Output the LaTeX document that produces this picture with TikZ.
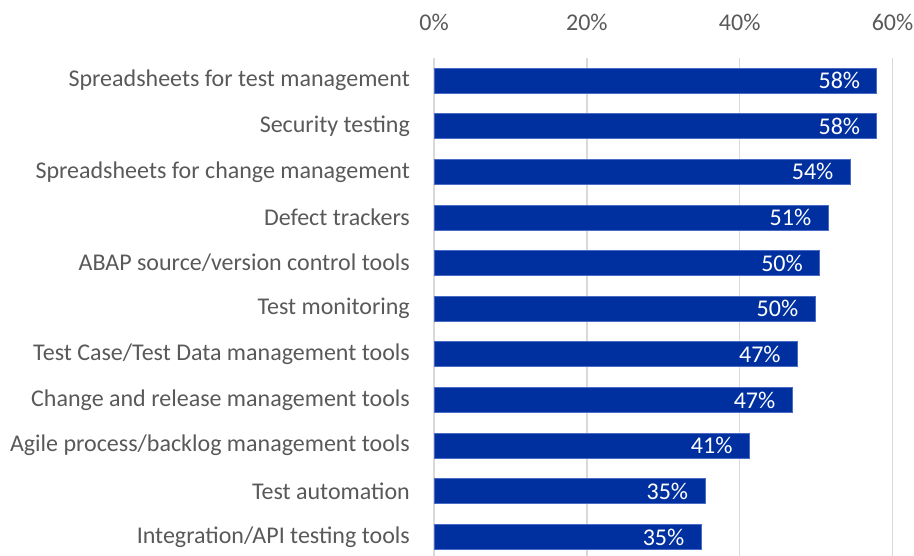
\documentclass[tikz,border=0pt]{standalone}
\usepackage{fontspec}
\setmainfont{Carlito}
\usetikzlibrary{positioning}
\definecolor{barblue}{HTML}{0030A0}
\definecolor{baredge}{HTML}{4A6BC4}
\definecolor{gridgray}{HTML}{D9D9D9}
\definecolor{labelgray}{HTML}{595959}

\begin{document}
\begin{tikzpicture}[x=1pt, y=-1pt,
  every node/.style={font=\fontsize{24}{28}\selectfont, inner sep=0pt},
  bar/.style={fill=barblue, draw=baredge, line width=0.8pt, minimum height=25pt, anchor=west},
  grid/.style={draw=gridgray, line width=1.6pt},
  cat/.style={text=labelgray},
  val/.style={text=white}
  ]
  \useasboundingbox (0,0) rectangle (914,556);
  % gridlines and axis labels
  \foreach \p [count=\k] in {0,20,40,60}{
    \draw[grid] (434+\p*7.642,58) -- (434+\p*7.642,556);
    \node[cat] (t\k) at (434+\p*7.642,22) {\p\%};
  }
  % bars
  \foreach \v/\pc/\txt [count=\i] in {57.9/58/{Spreadsheets for test management},
      57.9/58/{Security testing},
      54.4/54/{Spreadsheets for change management},
      51.5/51/{Defect trackers},
      50.4/50/{ABAP source/version control tools},
      49.8/50/{Test monitoring},
      47.5/47/{Test Case/Test Data management tools},
      46.8/47/{Change and release management tools},
      41.2/41/{Agile process/backlog management tools},
      35.4/35/{Test automation},
      34.9/35/{Integration/API testing tools}}{
    \node[bar, minimum width=\v*7.642pt] (b\i) at (434,80.5+\i*45.65-45.65) {};
    \node[cat, left=24pt of b\i.west] (c\i) {\txt};
    \node[val, left=17pt of b\i.east] (v\i) {\pc\%};
  }
\end{tikzpicture}
\end{document}
